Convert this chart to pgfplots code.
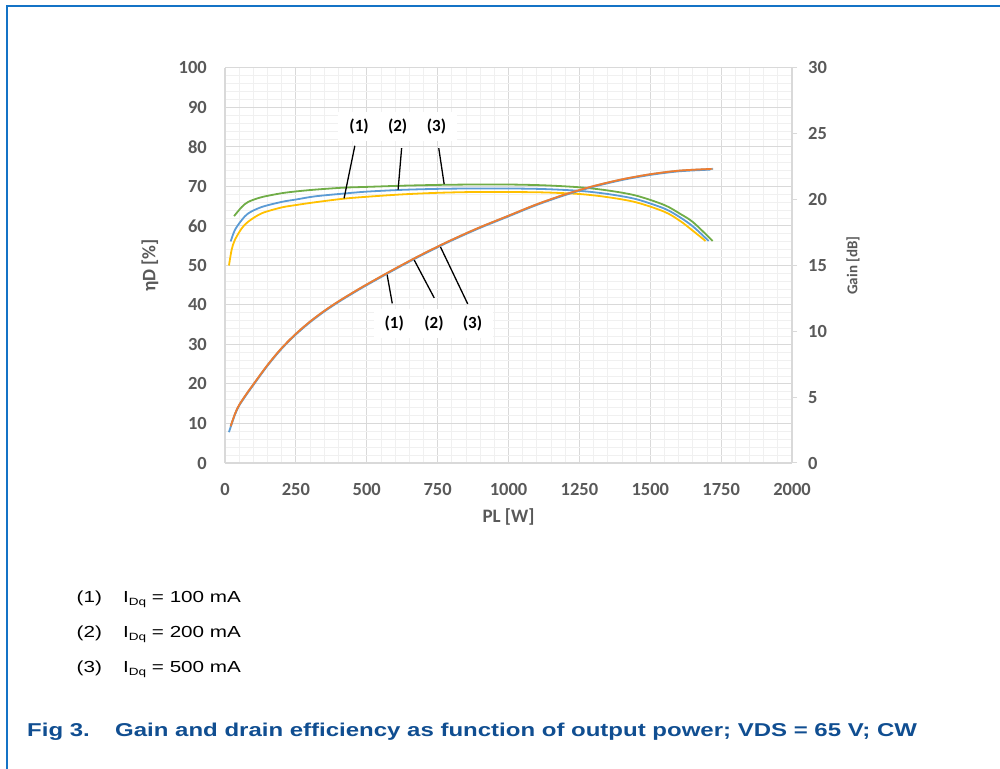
\documentclass[border=0pt]{standalone}
\usepackage{fontspec}
\setmainfont{Liberation Sans}
\newfontfamily\capfont{Liberation Sans}[FakeStretch=1.29]
\newfontfamily\chartfont{Carlito}
\usepackage{pgfplots}
\pgfplotsset{compat=1.18}

\definecolor{framec}{RGB}{20,115,198}
\definecolor{capc}{RGB}{16,78,145}
\definecolor{gmaj}{RGB}{217,217,217}
\definecolor{gmin}{RGB}{240,240,240}
\definecolor{tickc}{RGB}{89,89,89}
\definecolor{cyel}{RGB}{255,192,0}
\definecolor{cblu}{RGB}{91,155,213}
\definecolor{cgrn}{RGB}{112,173,71}
\definecolor{cora}{RGB}{237,125,49}
\definecolor{cgry}{RGB}{165,165,165}

\pgfplotsset{
  /pgf/number format/assume math mode=true,
  /pgf/number format/1000 sep={},
}

\begin{document}
\begin{tikzpicture}[x=1pt,y=1pt,
  lbl/.style={font=\chartfont\bfseries\fontsize{17}{18}\selectfont, fill=white,
    inner xsep=11pt, inner ysep=7pt, text=black}]
\path[use as bounding box] (0,0) rectangle (1000,768);
\draw[framec, line width=2.2pt] (7,-10) -- (7,762) -- (1010,762);

% efficiency, left axis
\begin{axis}[
  at={(225pt,305pt)}, anchor=south west, scale only axis,
  width=567pt, height=395pt,
  xmin=0, xmax=2000, ymin=0, ymax=100,
  xtick={0,250,...,2000}, ytick={0,10,...,100},
  minor x tick num=4, minor y tick num=4,
  grid=both,
  major grid style={draw=gmaj, line width=1pt},
  minor grid style={draw=gmin, line width=0.8pt},
  axis x line*=bottom, axis y line*=left,
  axis line style={draw=gmaj, line width=1.2pt, -},
  major tick length=0pt, minor tick length=0pt,
  tick label style={font=\chartfont\bfseries\fontsize{18.5}{20}\selectfont, text=tickc, inner sep=0pt},
  xticklabel style={anchor=center, yshift=-26.7pt},
  yticklabel style={anchor=east, xshift=-18pt},
  xlabel={PL [W]},
  xlabel style={at={(axis description cs:0.5,-0.136)}, anchor=center, inner sep=0pt,
    font=\chartfont\bfseries\fontsize{19}{20}\selectfont, text=tickc},
  ylabel={ηD [\%]},
  ylabel style={at={(axis description cs:-0.1323,0.5)}, anchor=center, inner sep=0pt,
    font=\chartfont\bfseries\fontsize{19}{20}\selectfont, text=tickc},
  every axis plot/.append style={line width=1.8pt, smooth, no markers},
]
% (1) IDq = 100 mA
\addplot[cyel] coordinates {
(14,50) (23.5,54) (35,56.5) (59,59.4) (82,61.1) (129,63.2) (200,64.7) (250,65.3)
(317,66) (417,66.9) (500,67.4) (625,68) (750,68.4) (875,68.6) (1000,68.6) (1125,68.5)
(1250,68.1) (1350,67.3) (1450,66.0) (1550,63.6) (1605,61.3) (1652,58.7) (1695,56.2)};
% (2) IDq = 200 mA
\addplot[cblu] coordinates {
(20,56.1) (35,59) (59,61.5) (82,63.2) (129,64.8) (200,66.1) (250,66.7) (317,67.5)
(417,68.2) (500,68.7) (625,69.15) (750,69.4) (875,69.5) (1000,69.5) (1125,69.35)
(1250,68.9) (1350,68.1) (1450,66.8) (1550,64.4) (1605,62.2) (1652,59.8) (1706,56.2)};
% (3) IDq = 500 mA
\addplot[cgrn] coordinates {
(32,62.5) (59,64.8) (82,66.1) (129,67.3) (200,68.3) (250,68.75) (317,69.2) (417,69.7)
(500,69.9) (625,70.2) (750,70.4) (875,70.5) (1000,70.5) (1125,70.3)
(1250,69.8) (1350,69.0) (1450,67.7) (1550,65.3) (1605,63.1) (1652,60.9) (1720,56.2)};

% leader lines
\addplot[black, line width=1.3pt, sharp plot] coordinates {(458,80.3) (420,67.0)};
\addplot[black, line width=1.3pt, sharp plot] coordinates {(623,79.7) (610.6,69.2)};
\addplot[black, line width=1.3pt, sharp plot] coordinates {(754,79.7) (773,70.6)};
\addplot[black, line width=1.3pt, sharp plot] coordinates {(571,48.0) (590,40.4)};
\addplot[black, line width=1.3pt, sharp plot] coordinates {(665,51.7) (738,41.8)};
\addplot[black, line width=1.3pt, sharp plot] coordinates {(758,55.0) (856,40.3)};

\node[lbl] at (axis cs:473,85.1) {(1)};
\node[lbl] at (axis cs:609,85.1) {(2)};
\node[lbl] at (axis cs:746,85.1) {(3)};
\node[lbl] at (axis cs:597,35.4) {(1)};
\node[lbl] at (axis cs:737,35.4) {(2)};
\node[lbl] at (axis cs:873,35.4) {(3)};
\end{axis}

% gain, right axis
\begin{axis}[
  at={(225pt,305pt)}, anchor=south west, scale only axis,
  width=567pt, height=395pt,
  xmin=0, xmax=2000, ymin=0, ymax=30,
  ytick={0,5,...,30},
  axis x line=none, axis y line*=right,
  axis line style={draw=gmaj, line width=1.2pt, -},
  ytick style={draw=gmaj, line width=1pt},
  tick align=outside, major tick length=5pt,
  tick label style={font=\chartfont\bfseries\fontsize{18.5}{20}\selectfont, text=tickc, inner sep=0pt},
  yticklabel style={anchor=west, xshift=11pt},
  ylabel={Gain [dB]},
  ylabel style={at={(axis description cs:1.1076,0.5)}, anchor=center, inner sep=0pt,
    font=\chartfont\bfseries\fontsize{15}{16}\selectfont, text=tickc},
  every axis plot/.append style={line width=1.8pt, smooth, no markers},
]
\addplot[cgry] coordinates {
(20,2.79) (35,3.72) (50,4.41) (75,5.22) (100,5.97) (150,7.44) (200,8.73) (250,9.81)
(300,10.74) (350,11.55) (400,12.27) (450,12.93) (500,13.56) (600,14.76) (700,15.90)
(800,16.95) (900,17.91) (1000,18.78) (1100,19.65) (1200,20.40) (1300,21.03)
(1400,21.54) (1500,21.93) (1600,22.20) (1700,22.32) (1722,22.34)};
\addplot[cblu] coordinates {
(14,2.34) (20,2.74) (35,3.67) (50,4.36) (75,5.17) (100,5.92) (150,7.39) (200,8.68) (250,9.76)
(300,10.69) (350,11.50) (400,12.22) (450,12.88) (500,13.51) (600,14.71) (700,15.85)
(800,16.90) (900,17.86) (1000,18.73) (1100,19.60) (1200,20.35) (1300,20.98)
(1400,21.49) (1500,21.88) (1600,22.15) (1700,22.27) (1712,22.28)};
\addplot[cora] coordinates {
(20,2.79) (35,3.72) (50,4.41) (75,5.22) (100,5.97) (150,7.44) (200,8.73) (250,9.81)
(300,10.74) (350,11.55) (400,12.27) (450,12.93) (500,13.56) (600,14.76) (700,15.90)
(800,16.95) (900,17.91) (1000,18.78) (1100,19.65) (1200,20.40) (1300,21.03)
(1400,21.54) (1500,21.93) (1600,22.20) (1700,22.32) (1716,22.33)};
\end{axis}

% notes and caption
\begin{scope}[every node/.style={anchor=base west, inner sep=0pt, font=\capfont\fontsize{16}{18}\selectfont}]
\node at (76.5,165.8) {(1)};
\node at (123,165.8) {I\raisebox{-0.2em}{\fontsize{10.5}{11}\selectfont Dq} = 100 mA};
\node at (76.5,130.8) {(2)};
\node at (123,130.8) {I\raisebox{-0.2em}{\fontsize{10.5}{11}\selectfont Dq} = 200 mA};
\node at (76.5,95.8) {(3)};
\node at (123,95.8) {I\raisebox{-0.2em}{\fontsize{10.5}{11}\selectfont Dq} = 500 mA};
\end{scope}
\begin{scope}[every node/.style={anchor=base west, inner sep=0pt, text=capc,
  font=\capfont\bfseries\fontsize{18.6}{20}\selectfont}]
\node at (27,31.3) {Fig 3.};
\node at (115,31.3) {Gain and drain efficiency as function of output power; VDS = 65 V; CW};
\end{scope}
\end{tikzpicture}
\end{document}
